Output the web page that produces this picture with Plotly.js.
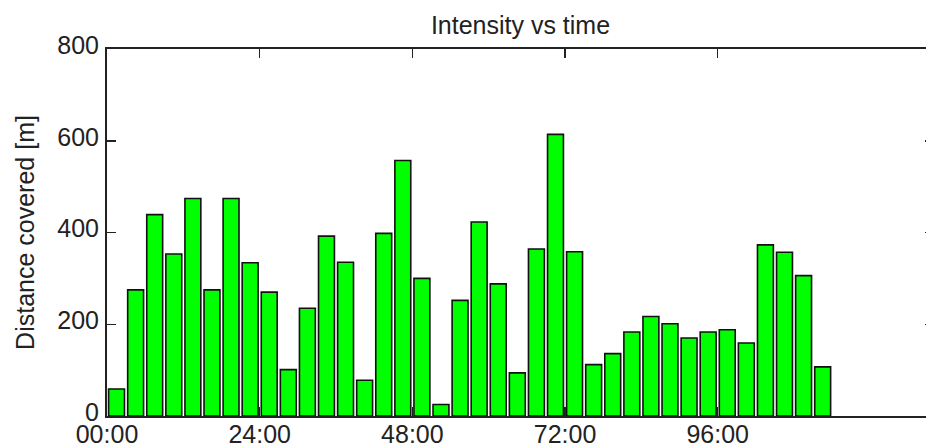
<!DOCTYPE html>
<html>
<head>
<meta charset="utf-8">
<script src="https://cdn.plot.ly/plotly-3.0.1.min.js"></script>
<style>
html, body { margin: 0; padding: 0; overflow: hidden; background: #fff; width: 926px; height: 448px; }
#chart { width: 940px; height: 448px; }
</style>
</head>
<body>
<div id="chart"></div>
<script>
// Bar centre times (hours), each bar covers a 3-hour interval
const hours = [1.5, 4.5, 7.5, 10.5, 13.5, 16.5, 19.5, 22.5, 25.5, 28.5,
               31.5, 34.5, 37.5, 40.5, 43.5, 46.5, 49.5, 52.5, 55.5, 58.5,
               61.5, 64.5, 67.5, 70.5, 73.5, 76.5, 79.5, 82.5, 85.5, 88.5,
               91.5, 94.5, 97.5, 100.5, 103.5, 106.5, 109.5, 112.5];
// Distance covered [m] per interval
const distance = [59, 275, 439, 353, 474, 275, 474, 334, 270, 101,
                  235, 392, 335, 78, 398, 557, 300, 25, 252, 423,
                  288, 94, 364, 614, 358, 112, 136, 183, 217, 201,
                  170, 183, 188, 159, 373, 357, 306, 107];
const tickVals = [0, 24, 48, 72, 96];
const tickText = ['00:00', '24:00', '48:00', '72:00', '96:00'];
const yTicks = [0, 200, 400, 600, 800];

const font = { family: '"Liberation Sans", Arial, sans-serif', size: 25, color: '#222' };

const trace = {
  type: 'bar',
  x: hours,
  y: distance,
  width: 2.5,
  marker: { color: '#00ff00', line: { color: '#111', width: 1.6 } },
  hoverinfo: 'x+y'
};

const layout = {
  width: 940,
  height: 448,
  margin: { l: 107, r: 6, t: 49, b: 32 },
  paper_bgcolor: '#fff',
  plot_bgcolor: '#fff',
  showlegend: false,
  font: font,
  title: {
    text: 'Intensity vs time',
    font: { family: font.family, size: 25, color: '#222' },
    x: 0.5, xref: 'paper',
    y: 1 - 25 / 448, yref: 'container', yanchor: 'middle'
  },
  xaxis: {
    range: [0, 130],
    tickvals: tickVals,
    ticktext: tickText,
    ticks: 'inside',
    ticklen: 9,
    tickwidth: 1.5,
    tickcolor: '#222',
    showline: true,
    linecolor: '#222',
    linewidth: 2,
    mirror: 'ticks',
    showgrid: false,
    zeroline: false,
    tickfont: font,
    ticklabelstandoff: -5,
    fixedrange: true
  },
  yaxis: {
    range: [0, 800],
    tickvals: yTicks,
    ticks: 'inside',
    ticklen: 9,
    tickwidth: 1.5,
    tickcolor: '#222',
    showline: true,
    linecolor: '#222',
    linewidth: 2,
    mirror: 'ticks',
    showgrid: false,
    zeroline: false,
    tickfont: font,
    ticklabelstandoff: 1,
    ticklabelshift: -4,
    title: { text: 'Distance covered [m]', font: font, standoff: 16 },
    fixedrange: true
  }
};

Plotly.newPlot('chart', [trace], layout, { displayModeBar: false, staticPlot: true });
</script>
</body>
</html>
